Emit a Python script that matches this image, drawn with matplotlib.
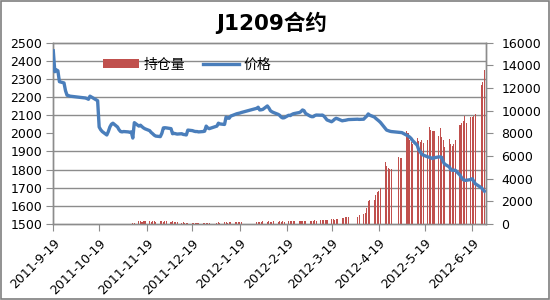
import matplotlib
matplotlib.use("Agg")
import matplotlib.pyplot as plt
from matplotlib.patches import Patch, Rectangle
from matplotlib.lines import Line2D
import pandas as pd

plt.rcParams['font.family'] = ['DejaVu Sans', 'Noto Sans CJK SC']

title = "J1209合约"
series_names = ["持仓量", "价格"]

holidays = ['2011-10-03', '2011-10-04', '2011-10-05', '2011-10-06', '2011-10-07',
            '2012-01-02', '2012-01-03', '2012-01-23', '2012-01-24', '2012-01-25',
            '2012-01-26', '2012-01-27', '2012-04-02', '2012-04-03', '2012-04-04',
            '2012-04-30', '2012-05-01', '2012-06-22']
first_day = '2011-09-19'
last_day = '2012-06-27'

# price per trading day (left axis)
price = [
    # Sep 2011
    2455, 2340, 2350, 2345, 2285, 2278, 2235, 2210, 2208, 2205,
    # Oct
    2195, 2192, 2188, 2205, 2200, 2185, 2180, 2035, 2020, 2010, 1991, 2010, 2035, 2050, 2056, 2035,
    # Nov
    2020, 2010, 2008, 2010, 2008, 2006, 2008, 1974, 2059, 2040, 2045, 2037, 2030, 2025, 2015, 2005,
    1998, 1990, 1985, 1982, 2000, 2030,
    # Dec
    2031, 2030, 2026, 1998, 2000, 1998, 1996, 1998, 1994, 1993, 1991, 2018, 2015, 2012, 2010, 2010,
    2008, 2010, 2012, 2040, 2030, 2026,
    # Jan 2012
    2040, 2056, 2052, 2049, 2090, 2085, 2083, 2095, 2105, 2108, 2110, 2112, 2115, 2138, 2144,
    # Feb
    2129, 2130, 2132, 2151, 2140, 2125, 2119, 2115, 2105, 2100, 2090, 2085, 2086, 2100, 2098, 2104,
    2108, 2110, 2115, 2120, 2129,
    # Mar
    2125, 2110, 2095, 2092, 2092, 2098, 2101, 2100, 2101, 2095, 2085, 2074, 2064, 2070, 2078, 2083,
    2080, 2069, 2071, 2072, 2074, 2076,
    # Apr
    2078, 2077, 2078, 2087, 2095, 2107, 2100, 2090, 2082, 2075, 2068, 2060, 2028, 2018, 2015, 2012, 2010,
    # May
    2006, 2005, 2004, 1991, 1986, 1980, 1972, 1960, 1935, 1910, 1898, 1885, 1880, 1870, 1868, 1865,
    1861, 1865, 1870, 1870, 1868, 1843,
    # Jun
    1830, 1815, 1800, 1796, 1797, 1796, 1770, 1756, 1745, 1741, 1741, 1745, 1750, 1735, 1722, 1700,
    1690, 1681,
]

# open interest per trading day (right axis)
open_interest = [
    # Sep 2011
    0, 0, 0, 0, 0, 0, 0, 0, 0, 0,
    # Oct
    0, 0, 0, 0, 0, 0, 0, 0, 0, 0, 0, 0, 0, 0, 0, 0,
    # Nov
    0, 0, 0, 0, 0, 0, 0, 80, 100, 250, 280, 200, 260, 240, 270, 200, 260, 280, 220, 240, 280, 210,
    # Dec
    260, 250, 200, 230, 180, 220, 160, 120, 140, 100, 130, 110, 90, 100, 80, 110, 90, 100, 80, 90, 110, 100,
    # Jan 2012
    120, 150, 110, 140, 160, 120, 170, 150, 180, 200, 160, 190, 170, 200, 220,
    # Feb
    180, 210, 230, 200, 240, 190, 220, 250, 200, 230, 210, 250, 220, 250, 280, 240, 270, 260, 260, 280, 250,
    # Mar
    290, 270, 280, 300, 260, 310, 290, 350, 380, 330, 360, 370, 400, 420, 390, 430, 410, 500, 540, 600, 620, 600,
    # Apr
    650, 800, 900, 1000, 1400, 2000, 2120, 2100, 2560, 2850, 2900, 3150, 5450, 5150, 4900, 4850, 4820,
    # May
    5940, 5850, 5800, 8200, 8000, 7400, 7200, 7100, 7600, 7300, 7250, 7400, 7150, 7400, 8600, 8300,
    8250, 8250, 7750, 8500, 7700, 7400,
    # Jun
    6800, 7500, 7100, 6900, 7100, 7400, 8700, 8900, 9050, 9500, 8900, 9400, 9450, 9500, 9700, 12300,
    12500, 13600,
]

x_tick_labels = ['2011-9-19', '2011-10-19', '2011-11-19', '2011-12-19', '2012-1-19',
                 '2012-2-19', '2012-3-19', '2012-4-19', '2012-5-19', '2012-6-19']
price_ticks = list(range(1500, 2501, 100))
oi_ticks = list(range(0, 16001, 2000))

days = pd.bdate_range(first_day, last_day)
days = days[~days.isin(pd.to_datetime(holidays))]

fig = plt.figure(figsize=(5.5, 3), dpi=100)
axb = fig.add_axes([0.0969, 0.2533, 0.7867, 0.6044])
axp = axb.twinx()

grid_c = '#8c8c8c'
# bars (right axis)
axb.bar(days, open_interest, width=0.7, color='#C0504D', linewidth=0, zorder=3)
axb.set_ylim(oi_ticks[0], oi_ticks[-1])
axb.set_yticks(oi_ticks)
axb.yaxis.tick_right()
# gridlines follow the left (price) scale, drawn behind bars
scale = (oi_ticks[-1] - oi_ticks[0]) / (price_ticks[-1] - price_ticks[0])
axb.set_yticks([(p - price_ticks[0]) * scale for p in price_ticks], minor=True)
axb.grid(which='minor', axis='y', color=grid_c, lw=1.0, zorder=0)
axb.tick_params(axis='y', which='minor', length=0)
axb.tick_params(axis='y', which='major', length=5, color=grid_c, labelsize=9, pad=6, right=True, left=False)

# price line (left axis)
axp.plot(days, price, color='#4A7EBB', lw=2.4, solid_joinstyle='round', zorder=4)
axp.set_ylim(price_ticks[0], price_ticks[-1])
axp.set_yticks(price_ticks)
axp.yaxis.tick_left()
axp.tick_params(axis='y', length=5, color=grid_c, labelsize=9, pad=3, left=True, right=False)
axb.tick_params(axis='y', which='both', left=False)

tick_dates = [pd.Timestamp(s) for s in x_tick_labels]
axb.set_xlim(pd.Timestamp(first_day), pd.Timestamp(last_day) + pd.Timedelta(days=1))
axb.set_xticks(tick_dates)
axb.set_xticklabels(x_tick_labels, rotation=45, ha='right', va='top', rotation_mode='anchor', fontsize=9)
axb.tick_params(axis='x', length=5, color=grid_c, pad=4)

for ax in (axb, axp):
    for s in ax.spines.values():
        s.set_color(grid_c)
        s.set_linewidth(1.0)

fig.text(0.494, 0.925, title, ha='center', va='center', fontsize=15.5, fontweight='bold')

handles = [Patch(facecolor='#C0504D', edgecolor='none'),
           Line2D([0], [0], color='#4A7EBB', lw=2.4)]
fig.legend(handles, series_names, loc='center left', bbox_to_anchor=(0.165, 0.785),
           ncol=2, frameon=False, fontsize=10, handlelength=2.6, handleheight=0.6,
           handletextpad=0.3, columnspacing=1.3)

fig.patches.append(Rectangle((0.001, 0.002), 0.997, 0.995, transform=fig.transFigure,
                             fill=False, edgecolor='#7f7f7f', lw=1.2))

fig.savefig('out.png', dpi=100, facecolor='white')
